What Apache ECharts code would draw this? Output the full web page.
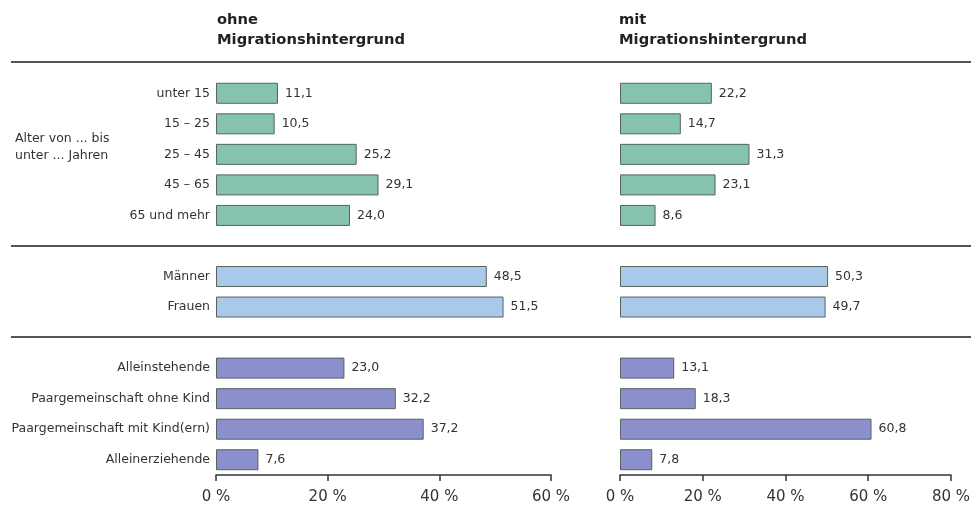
<!DOCTYPE html>
<html>
<head>
<meta charset="utf-8">
<script src="https://cdn.jsdelivr.net/npm/echarts@6/dist/echarts.min.js"></script>
<style>
  html, body { margin: 0; padding: 0; background: #fff; }
  #chart { width: 973px; height: 510px; }
</style>
</head>
<body>
<div id="chart"></div>
<script>
// Kategorien (leere Einträge = Abstand zwischen den Gruppen)
var categories = ['unter 15', '15 – 25', '25 – 45', '45 – 65', '65 und mehr', '',
  'Männer', 'Frauen', '',
  'Alleinstehende', 'Paargemeinschaft ohne Kind', 'Paargemeinschaft mit Kind(ern)', 'Alleinerziehende'];
// Gruppe je Kategorie (0 = Alter, 1 = Geschlecht, 2 = Lebensform)
var groups = [0, 0, 0, 0, 0, -1, 1, 1, -1, 2, 2, 2, 2];
var ohneMig = [11.1, 10.5, 25.2, 29.1, 24.0, null, 48.5, 51.5, null, 23.0, 32.2, 37.2, 7.6];
var mitMig = [22.2, 14.7, 31.3, 23.1, 8.6, null, 50.3, 49.7, null, 13.1, 18.3, 60.8, 7.8];
var leftTicks = { min: 0, max: 60, interval: 20 };
var rightTicks = { min: 0, max: 80, interval: 20 };
var groupColors = ['#85c3ac', '#a9c9ea', '#8b8fcc'];

var myChart = echarts.init(document.getElementById('chart'));

function toData(values) {
  return values.map(function (v, i) {
    if (v === null) return '-';
    return { value: v, itemStyle: { color: groupColors[groups[i]] } };
  });
}

// Dezimalkomma
function fmt(p) {
  return p.value.toFixed(1).replace('.', ',');
}

var fontFam = 'DejaVu Sans, Arial, sans-serif';

function xAxisFor(idx, ticks) {
  return {
    type: 'value', gridIndex: idx,
    min: ticks.min, max: ticks.max, interval: ticks.interval,
    axisLine: { show: true, lineStyle: { color: '#333', width: 1.5 } },
    axisTick: { show: true, length: 6, lineStyle: { color: '#333', width: 1.5 } },
    axisLabel: { formatter: '{value} %', color: '#333', fontSize: 15, fontFamily: fontFam, margin: 15 },
    splitLine: { show: false }
  };
}

function yAxisFor(idx, showLabels) {
  return {
    type: 'category', gridIndex: idx, inverse: true, data: categories,
    axisLine: { show: false }, axisTick: { show: false },
    axisLabel: { show: showLabels, color: '#333', fontSize: 12.5, fontFamily: fontFam, margin: 6 }
  };
}

function seriesFor(idx, values) {
  return {
    type: 'bar', xAxisIndex: idx, yAxisIndex: idx,
    data: toData(values), barWidth: 21,
    itemStyle: { borderColor: '#56635f', borderWidth: 1 },
    label: { show: true, position: 'right', distance: 7, formatter: fmt,
      color: '#333', fontSize: 12.5, fontFamily: fontFam },
    animation: false
  };
}

function sepLine(y) {
  return { type: 'line', shape: { x1: 11, y1: y, x2: 971, y2: y },
    style: { stroke: '#555', lineWidth: 2 } };
}

var titleStyle = { fill: '#222', font: 'bold 14.7px ' + fontFam };

var option = {
  animation: false,
  grid: [
    { left: 216, width: 335, top: 78, height: 397 },
    { left: 620, width: 334, top: 78, height: 397 }
  ],
  xAxis: [xAxisFor(0, leftTicks), xAxisFor(1, rightTicks)],
  yAxis: [yAxisFor(0, true), yAxisFor(1, false)],
  series: [seriesFor(0, ohneMig), seriesFor(1, mitMig)],
  graphic: [
    sepLine(62), sepLine(246), sepLine(337),
    { type: 'text', left: 217, top: 10, style: Object.assign({ text: 'ohne\nMigrationshintergrund', lineHeight: 20 }, titleStyle) },
    { type: 'text', left: 619, top: 10, style: Object.assign({ text: 'mit\nMigrationshintergrund', lineHeight: 20 }, titleStyle) },
    { type: 'text', left: 15, top: 130, style: { text: 'Alter von ... bis\nunter ... Jahren', lineHeight: 17,
      fill: '#333', font: '12.5px ' + fontFam } }
  ]
};

myChart.setOption(option);
</script>
</body>
</html>
